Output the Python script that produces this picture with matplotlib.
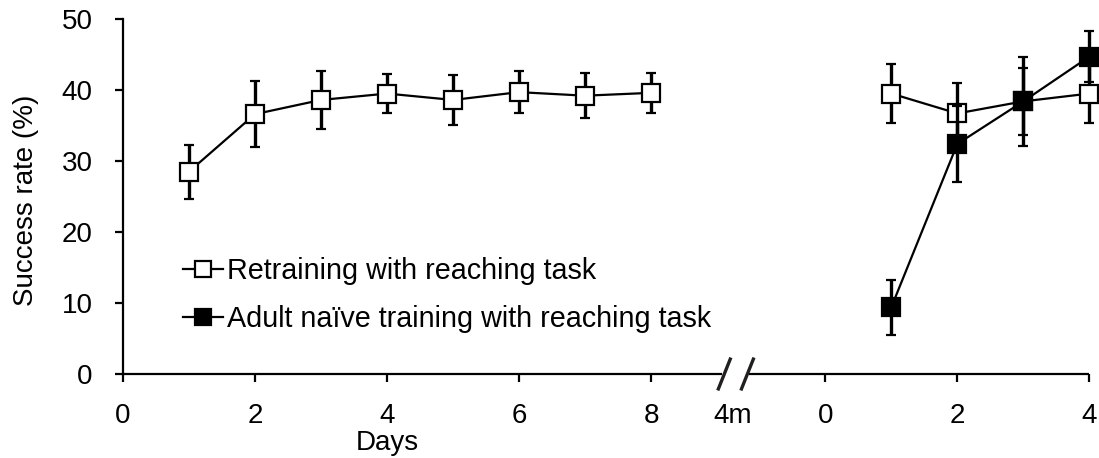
import matplotlib
matplotlib.use("Agg")
import matplotlib.pyplot as plt
import matplotlib.transforms as mtransforms
import numpy as np

plt.rcParams['font.family'] = ['Liberation Sans', 'DejaVu Sans']

# Training phase (days 1-8)
days_train = [1, 2, 3, 4, 5, 6, 7, 8]
retrain_train = [28.5, 36.6, 38.6, 39.5, 38.6, 39.7, 39.2, 39.6]
retrain_train_err = [3.8, 4.6, 4.1, 2.8, 3.5, 3.0, 3.2, 2.8]

# After 4 months (days 1-4)
days_late = [1, 2, 3, 4]
retrain_late = [39.5, 36.7, 38.4, 39.5]
retrain_late_err = [4.2, 4.3, 4.7, 4.2]
naive_late = [9.4, 32.4, 38.4, 44.7]
naive_late_err = [3.9, 5.4, 6.3, 3.6]

left_ticks = [0, 2, 4, 6, 8]
right_ticks = [0, 2, 4]
gap_label = "4m"

label_retrain = "Retraining with reaching task"
label_naive = "Adult naïve training with reaching task"

# layout of the broken day axis (axis units)
late_offset = 10.64
gap_pos = 9.24
x_max = late_offset + 4.01

fig = plt.figure(figsize=(10.99, 4.58), dpi=100)
ax = fig.add_axes([0.1119, 0.1834, 0.8799, 0.7751])

marker_kw = dict(marker='s', markersize=13, markeredgewidth=1.6,
                 markeredgecolor='black', color='black', linewidth=1.6,
                 ecolor='black', elinewidth=2.4, capsize=3.8, capthick=2.4,
                 clip_on=False)

x_late = np.array(days_late) + late_offset

h1 = ax.errorbar(days_train, retrain_train, yerr=retrain_train_err,
                 markerfacecolor='white', zorder=3, **marker_kw)
ax.errorbar(x_late, retrain_late, yerr=retrain_late_err,
            markerfacecolor='white', zorder=3, **marker_kw)
h2 = ax.errorbar(x_late, naive_late, yerr=naive_late_err,
                 markerfacecolor='black', zorder=4, **marker_kw)

ax.set_xlim(0, x_max)
ax.set_ylim(0, 50)
ax.set_yticks(np.arange(0, 51, 10))

xt = list(left_ticks) + [gap_pos] + [t + late_offset for t in right_ticks]
xl = [str(t) for t in left_ticks] + [gap_label] + [str(t) for t in right_ticks]
ax.set_xticks(xt)
ax.set_xticklabels(xl)
ax.xaxis.get_major_ticks()[len(left_ticks)].tick1line.set_visible(False)

for s in ['top', 'right', 'bottom']:
    ax.spines[s].set_visible(False)
ax.spines['left'].set_linewidth(1.6)

ax.tick_params(axis='both', direction='out', length=6, width=1.6,
               labelsize=20, colors='black')
ax.tick_params(axis='y', pad=16)
ax.tick_params(axis='x', pad=15)

# bottom axis line with a break
tr = mtransforms.blended_transform_factory(ax.transData, ax.transAxes)
ax.plot([0, gap_pos - 0.17], [0, 0], color='black', lw=1.6,
        transform=tr, clip_on=False, solid_capstyle='butt')
ax.plot([gap_pos + 0.25, x_max - 0.01], [0, 0], color='black', lw=1.6,
        transform=tr, clip_on=False, solid_capstyle='butt')
for cx in (gap_pos - 0.13, gap_pos + 0.22):
    ax.plot([cx - 0.09, cx + 0.09], [-0.042, 0.042], color='#231f20',
            lw=2.4, transform=tr, clip_on=False)

ax.set_ylabel("Success rate (%)", fontsize=20)
ax.yaxis.set_label_coords(-0.087, 0.49)
ax.set_xlabel("Days", fontsize=20)
ax.xaxis.set_label_coords(0.273, -0.158)

leg = ax.legend([h1[0], h2[0]], [label_retrain, label_naive], loc='center left',
                bbox_to_anchor=(0.062, 0.2225), frameon=False, fontsize=20.7,
                handlelength=1.4, handletextpad=0.15, labelspacing=0.68,
                borderpad=0, borderaxespad=0, markerscale=0.85)

fig.savefig("out.png", dpi=100)
